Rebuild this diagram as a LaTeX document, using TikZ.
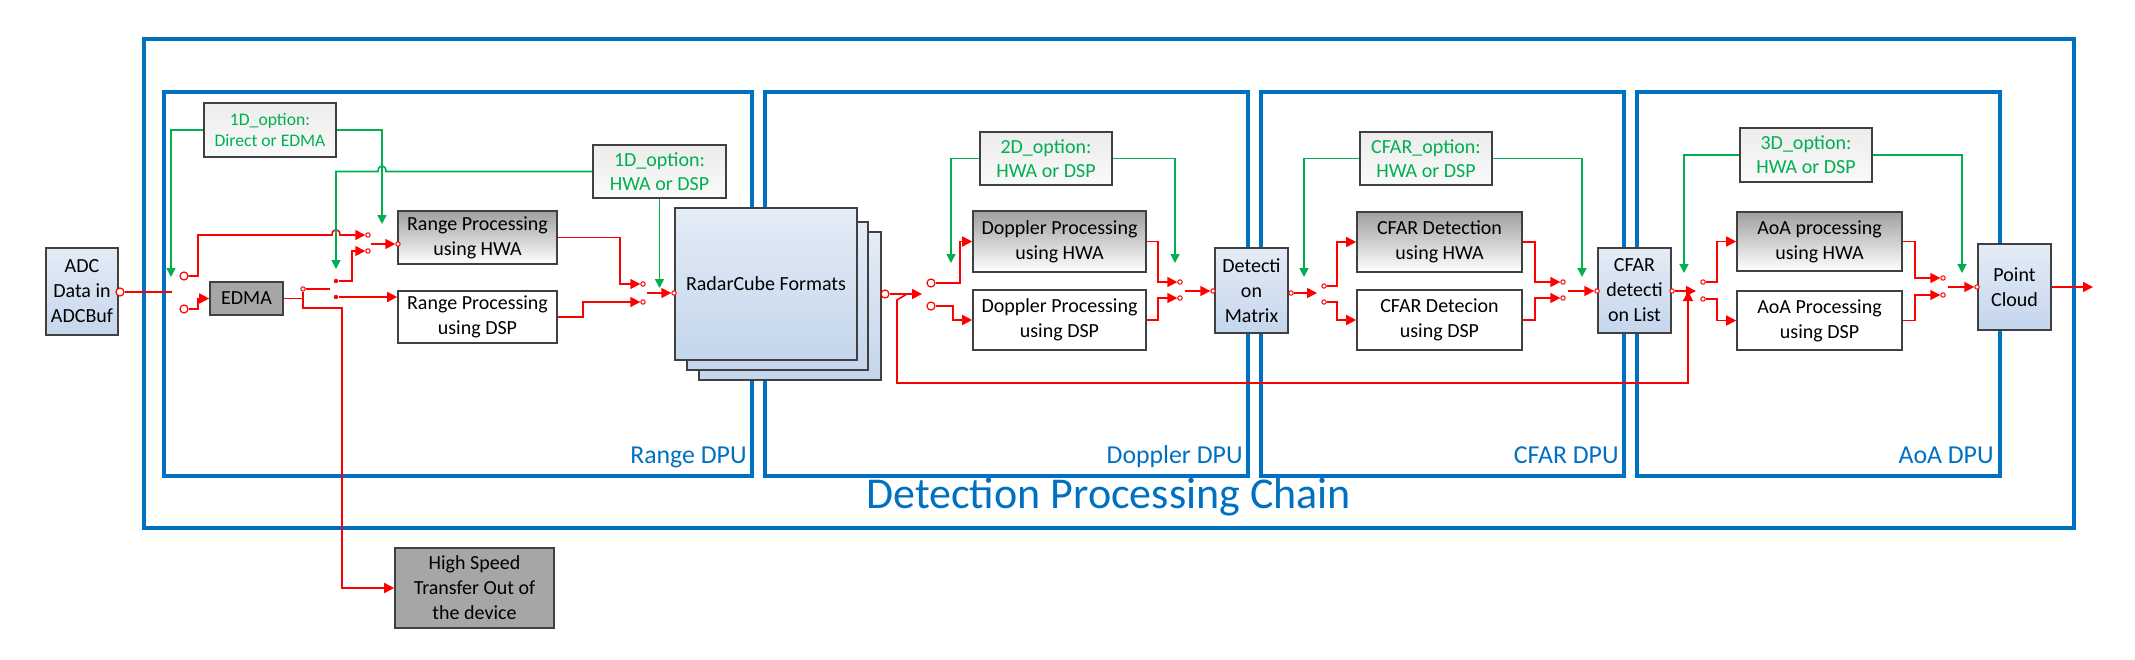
\documentclass[tikz,border=0pt]{standalone}
\usepackage{fontspec}
\setmainfont{Carlito}
\usetikzlibrary{arrows.meta}
\definecolor{tiblue}{RGB}{0,112,192}
\definecolor{optgreen}{RGB}{0,176,80}
\definecolor{cubetop}{RGB}{228,236,246}
\definecolor{cubebot}{RGB}{196,214,236}
\definecolor{boxline}{RGB}{64,64,64}

\begin{document}
\begin{tikzpicture}[x=0.5pt, y=-0.5pt,
  dpuframe/.style={draw=tiblue, line width=1.6pt},
  dpulabel/.style={text=tiblue, anchor=base east, inner sep=0pt, font=\fontsize{12.9}{15}\selectfont},
  blk/.style={draw=boxline, line width=0.8pt, inner sep=0pt, align=center, font=\fontsize{10}{12.5}\selectfont},
  bluebox/.style={blk, top color=cubetop, bottom color=cubebot},
  hwabox/.style={blk, top color=gray!75, bottom color=white},
  dspbox/.style={blk, fill=white},
  darkbox/.style={blk, fill=gray!70},
  optbox/.style={blk, top color=gray!15, bottom color=gray!4, text=optgreen, font=\fontsize{10}{12}\selectfont},
  contact/.style={circle, draw=red, fill=white, line width=0.6pt, inner sep=0pt, minimum size=4pt},
  tinycontact/.style={contact, line width=0.5pt, minimum size=2.2pt},
  dotcontact/.style={circle, fill=red, inner sep=0pt, minimum size=2.2pt},
  sig/.style={draw=red, line width=0.8pt},
  sigarrow/.style={sig, -{Triangle[length=5pt,width=5pt]}},
  ctrl/.style={draw=optgreen, line width=0.8pt, -{Triangle[length=4.5pt,width=4.5pt]}}]

\useasboundingbox (0,0) rectangle (2135,659);

% frames
\draw[dpuframe] (144,39) rectangle (2074,528);
\draw[dpuframe] (164,92) rectangle (752,476);
\draw[dpuframe] (765,92) rectangle (1248,476);
\draw[dpuframe] (1261,92) rectangle (1624,476);
\draw[dpuframe] (1637,92) rectangle (2000,476);
\node[dpulabel] (lrange) at (747,463) {Range DPU};
\node[dpulabel] (ldoppler) at (1243,463) {Doppler DPU};
\node[dpulabel] (lcfar) at (1619,463) {CFAR DPU};
\node[dpulabel] (laoa) at (1994,463) {AoA DPU};
\node[text=tiblue, anchor=base west, inner sep=0pt, font=\fontsize{22}{26}\selectfont] (chain) at (866,508) {Detection Processing Chain};

% blocks
\node[bluebox, minimum width=36pt, minimum height=43.5pt] (adc) at (82,291.5) {ADC\\Data in\\ADCBuf};
\node[darkbox, minimum width=36.5pt, minimum height=16.5pt] (edma) at (246.5,298.5) {EDMA};
\node[darkbox, minimum width=79.5pt, minimum height=40pt] (hst) at (474.5,588) {High Speed\\Transfer Out of\\the device};
\node[optbox, font=\fontsize{8.8}{10.5}\selectfont, minimum width=66pt, minimum height=27pt] (opta) at (270,130) {1D\_option:\\Direct or EDMA};
\node[optbox, minimum width=66.5pt, minimum height=26.5pt] (optr) at (659.5,171.5) {1D\_option:\\HWA or DSP};
\node[hwabox, minimum width=79.5pt, minimum height=26.5pt] (rhwa) at (477.5,237.5) {Range Processing\\using HWA};
\node[dspbox, minimum width=79.5pt, minimum height=26pt] (rdsp) at (477.5,317) {Range Processing\\using DSP};
\node[bluebox, minimum width=91pt, minimum height=74pt] (rcube3) at (790,306) {};
\node[bluebox, minimum width=90.5pt, minimum height=74pt] (rcube2) at (777.5,296) {};
\node[bluebox, minimum width=91pt, minimum height=76pt] (rcube) at (766,284) {RadarCube Formats};

\node[optbox, minimum width=66pt, minimum height=26.5pt] (optd) at (1046,158.5) {2D\_option:\\HWA or DSP};
\node[hwabox, minimum width=86.5pt, minimum height=30.5pt] (dhwa) at (1059.5,241.5) {Doppler Processing\\using HWA};
\node[dspbox, minimum width=86.5pt, minimum height=30pt] (ddsp) at (1059.5,320) {Doppler Processing\\using DSP};
\node[bluebox, minimum width=36.5pt, minimum height=42.5pt] (detmat) at (1251.5,290.5) {Detecti\\on\\Matrix};

\node[optbox, minimum width=66pt, minimum height=26.5pt] (optc) at (1426,158.5) {CFAR\_option:\\HWA or DSP};
\node[hwabox, minimum width=82.5pt, minimum height=30pt] (chwa) at (1439.5,242) {CFAR Detection\\using HWA};
\node[dspbox, minimum width=82.5pt, minimum height=30pt] (cdsp) at (1439.5,320) {CFAR Detecion\\using DSP};
\node[bluebox, minimum width=36.5pt, minimum height=42.5pt] (cfarlist) at (1634.5,290.5) {CFAR\\detecti\\on List};

\node[optbox, minimum width=66pt, minimum height=27pt] (optaoa) at (1806,155) {3D\_option:\\HWA or DSP};
\node[hwabox, minimum width=82.5pt, minimum height=29.5pt] (ahwa) at (1819.5,241.5) {AoA processing\\using HWA};
\node[dspbox, minimum width=82.5pt, minimum height=29.5pt] (adsp) at (1819.5,320.5) {AoA Processing\\using DSP};
\node[bluebox, minimum width=36.5pt, minimum height=43pt] (pcloud) at (2014.5,287) {Point\\Cloud};

% switch contacts
\node[contact] (adcout) at (120,292) {};
\node[contact] (c0a) at (184,276) {};
\node[contact] (c0b) at (184,309) {};
\node[tinycontact] (p1) at (303,289) {};
\node[dotcontact] (c1a) at (336,281) {};
\node[dotcontact] (c1b) at (336,297) {};
\node[tinycontact] (m1a) at (368,235) {};
\node[tinycontact] (m1b) at (368,251) {};
\node[tinycontact] (rin) at (398,244) {};
\node[tinycontact] (m2a) at (643,284) {};
\node[tinycontact] (m2b) at (643,302) {};
\node[tinycontact] (rcin) at (674,293) {};
\node[contact] (rcout) at (885,294) {};
\node[contact] (c2a) at (931,283) {};
\node[contact] (c2b) at (931,306) {};
\node[tinycontact] (m3a) at (1180,282) {};
\node[tinycontact] (m3b) at (1180,298) {};
\node[tinycontact] (dmin) at (1213,291) {};
\node[tinycontact] (dmout) at (1291,293) {};
\node[tinycontact] (c3a) at (1324,286) {};
\node[tinycontact] (c3b) at (1324,302) {};
\node[tinycontact] (m4a) at (1563,282) {};
\node[tinycontact] (m4b) at (1563,298) {};
\node[tinycontact] (clin) at (1597,291) {};
\node[tinycontact] (clout) at (1672,291) {};
\node[tinycontact] (c4a) at (1703,282) {};
\node[tinycontact] (c4b) at (1703,299) {};
\node[tinycontact] (m5a) at (1943,278) {};
\node[tinycontact] (m5b) at (1943,295) {};
\node[tinycontact] (pcin) at (1977,287) {};

% free ends
\coordinate (blade0) at (172,292);
\coordinate (blade1) at (371,244);
\coordinate (bladep) at (330,289);
\coordinate (blade2) at (647,293);
\coordinate (blade3) at (922,294);
\coordinate (blade4) at (1185,291);
\coordinate (blade5) at (1317,293);
\coordinate (blade6) at (1568,291);
\coordinate (blade7) at (1696,291);
\coordinate (blade8) at (1948,287);
\coordinate (fbend) at (1688,291);
\coordinate (pcend) at (2093,287);
\coordinate (g1a) at (171,277);
\coordinate (g1b) at (382,224);
\coordinate (g1c) at (336,269);
\coordinate (g1d) at (659.5,288);
\coordinate (g2a) at (951,263);
\coordinate (g2b) at (1175,263);
\coordinate (g3a) at (1304,277);
\coordinate (g3b) at (1582,277);
\coordinate (g4a) at (1684,273);
\coordinate (g4b) at (1962,273);

% range dpu signals
\draw[sig] (adcout) -- (blade0);
\draw[sigarrow] (c0a) -| (198,235) -- (332,235) .. controls (332,228) and (340,228) .. (340,235) -- (m1a);
\draw[sigarrow] (c0b) -| (198,298.5) -- (edma);
\draw[sig] (edma) -- (303,298.5);
\draw[sig] (p1) -- (bladep);
\draw[sigarrow] (p1) -- (303,308) -- (342,308) |- (hst);
\draw[sigarrow] (c1a) -| (352,251) -- (m1b);
\draw[sigarrow] (c1b) -- (c1b -| rdsp.west);
\draw[sigarrow] (blade1) -- (rin);
\draw[sigarrow] (rhwa.east) -- (620,237.5) |- (m2a);
\draw[sigarrow] (rdsp.east) -- (583,317) |- (m2b);
\draw[sigarrow] (blade2) -- (rcin);
\draw[sigarrow] (rcout) -- (blade3);
\draw[sigarrow] (907,294) -- (897,300) -- (897,383) -| (fbend);

% doppler dpu signals
\draw[sigarrow] (c2a) -| (960,241.5) -- (dhwa);
\draw[sigarrow] (c2b) -| (953,320) -- (ddsp);
\draw[sigarrow] (dhwa.east) -- (1158,241.5) |- (m3a);
\draw[sigarrow] (ddsp.east) -- (1158,320) |- (m3b);
\draw[sigarrow] (blade4) -- (dmin);
\draw[sigarrow] (dmout) -- (blade5);

% cfar dpu signals
\draw[sigarrow] (c3a) -| (1337,242) -- (chwa);
\draw[sigarrow] (c3b) -| (1337,320) -- (cdsp);
\draw[sigarrow] (chwa.east) -- (1535,242) |- (m4a);
\draw[sigarrow] (cdsp.east) -- (1535,320) |- (m4b);
\draw[sigarrow] (blade6) -- (clin);
\draw[sigarrow] (clout) -- (blade7);

% aoa dpu signals
\draw[sigarrow] (c4a) -| (1717,241.5) -- (ahwa);
\draw[sigarrow] (c4b) -| (1717,320.5) -- (adsp);
\draw[sigarrow] (ahwa.east) -- (1915,241.5) |- (m5a);
\draw[sigarrow] (adsp.east) -- (1915,320.5) |- (m5b);
\draw[sigarrow] (blade8) -- (pcin);
\draw[sigarrow] (pcloud) -- (pcend);

% option controls
\draw[ctrl] (opta) -| (g1a);
\draw[ctrl] (opta) -| (g1b);
\draw[ctrl] (optr.west) -- (386,171.5) .. controls (386,164) and (378,164) .. (378,171.5) -| (g1c);
\draw[ctrl] (optr) -- (g1d);
\draw[ctrl] (optd) -| (g2a);
\draw[ctrl] (optd) -| (g2b);
\draw[ctrl] (optc) -| (g3a);
\draw[ctrl] (optc) -| (g3b);
\draw[ctrl] (optaoa) -| (g4a);
\draw[ctrl] (optaoa) -| (g4b);
\end{tikzpicture}
\end{document}
